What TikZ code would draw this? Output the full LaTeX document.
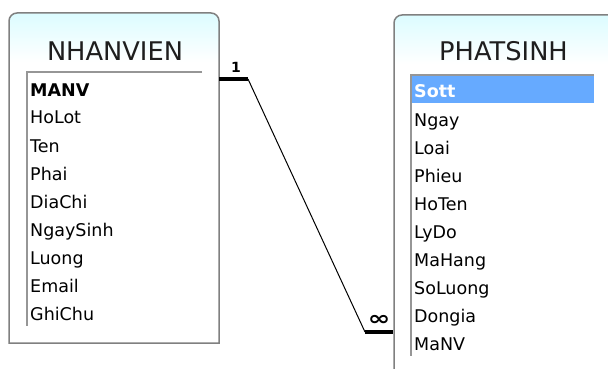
\documentclass[tikz,border=0pt]{standalone}
\usepackage{fontspec}
\setmainfont{DejaVu Sans}
\definecolor{boxgray}{RGB}{128,128,128}
\definecolor{listgray}{RGB}{150,150,150}
\definecolor{titlecol}{RGB}{30,30,30}
\definecolor{topcyan}{RGB}{220,252,255}
\definecolor{selblue}{RGB}{102,170,255}
\begin{document}
\begin{tikzpicture}[x=1pt,y=-1pt,
  field/.style={anchor=base west, inner sep=0pt, font=\fontsize{17.5}{20}\selectfont},
  keyfield/.style={field, font=\fontsize{17.5}{20}\selectfont\bfseries},
  tabtitle/.style={anchor=base, inner sep=0pt, font=\fontsize{25.7}{28}\selectfont, text=titlecol},
  frame/.style={draw=boxgray, line width=1.5pt},
  listline/.style={draw=listgray, line width=1.5pt},
  thickend/.style={line width=4pt},
  thinlink/.style={line width=1pt},
  card/.style={inner sep=0pt, font=\bfseries}]
\useasboundingbox (0,0) rectangle (608,369);
\begin{scope}
\clip (0,0) rectangle (608,369);
% ---- NHANVIEN box ----
\begin{scope}
\clip (9,343) -- (9,21) .. controls (9,16.6) and (12.6,13) .. (17,13) -- (211,13) .. controls (215.4,13) and (219,16.6) .. (219,21) -- (219,343) -- cycle;
\fill[white] (9,13) rectangle (219,343);
\shade[top color=topcyan, bottom color=white] (9,13) rectangle (219,62);
\end{scope}
\path[frame] (9,343) -- (9,21) .. controls (9,16.6) and (12.6,13) .. (17,13) -- (211,13) .. controls (215.4,13) and (219,16.6) .. (219,21) -- (219,343) -- cycle;
\node[tabtitle] (nvtitle) at (115,60) {NHANVIEN};
\path[listline] (202,72) -- (27,72) -- (27,326);
\node[keyfield] (nv1) at (30,96) {MANV};
\node[field] (nv2) at (30,124) {HoLot};
\node[field] (nv3) at (30,152) {Ten};
\node[field] (nv4) at (30,180) {Phai};
\node[field] (nv5) at (30,208) {DiaChi};
\node[field] (nv6) at (30,236) {NgaySinh};
\node[field] (nv7) at (30,264) {Luong};
\node[field] (nv8) at (30,292) {Email};
\node[field] (nv9) at (30,320) {GhiChu};
% ---- PHATSINH box ----
\begin{scope}
\clip (394,380) -- (394,23) .. controls (394,18.6) and (397.6,15) .. (402,15) -- (630,15) -- (630,380) -- cycle;
\fill[white] (394,15) rectangle (630,380);
\shade[top color=topcyan, bottom color=white] (394,15) rectangle (630,64);
\end{scope}
\path[frame] (394,380) -- (394,23) .. controls (394,18.6) and (397.6,15) .. (402,15) -- (630,15);
\node[tabtitle] (pstitle) at (503.5,61) {PHATSINH};
\fill[selblue] (412,76) rectangle (594,103);
\path[listline] (594,75) -- (411,75) -- (411,356);
\node[keyfield, text=white] (ps1) at (414,98) {Sott};
\node[field] (ps2) at (414,126) {Ngay};
\node[field] (ps3) at (414,154) {Loai};
\node[field] (ps4) at (414,182) {Phieu};
\node[field] (ps5) at (414,210) {HoTen};
\node[field] (ps6) at (414,238) {LyDo};
\node[field] (ps7) at (414,266) {MaHang};
\node[field] (ps8) at (414,294) {SoLuong};
\node[field] (ps9) at (414,322) {Dongia};
\node[field] (ps10) at (414,350) {MaNV};
% ---- relationship ----
\coordinate (nvR) at (219,79);
\coordinate (k1) at (248,79);
\coordinate (k2) at (365,332);
\coordinate (psL) at (393,332);
\draw[thickend] (nvR) -- (k1);
\draw[thinlink] (k1) -- (k2);
\draw[thickend] (k2) -- (psL);
\node[card, font=\fontsize{14}{14}\selectfont\bfseries] (one) at (236,67) {1};
\node[card, font=\fontsize{20}{20}\selectfont\bfseries] (many) at (379,320) {\scalebox{1.35}[1]{∞}};
\end{scope}
\end{tikzpicture}
\end{document}
